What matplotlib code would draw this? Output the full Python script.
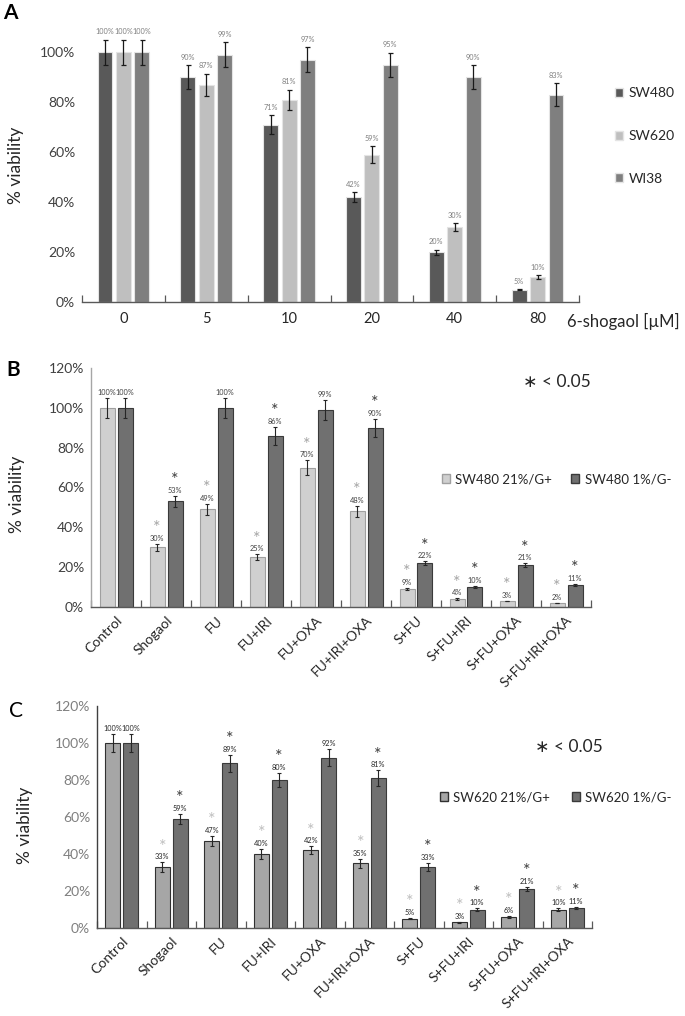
import numpy as np
import matplotlib
matplotlib.use("Agg")
import matplotlib.pyplot as plt
from matplotlib.patches import Patch

plt.rcParams['font.family'] = ['Lato', 'DejaVu Sans']

# ---- panel A: dose response
doses = ["0", "5", "10", "20", "40", "80"]
sw480 = [100, 90, 71, 42, 20, 5]
sw480_err = [5, 4.7, 3.7, 2, 1, 0.3]
sw620 = [100, 87, 81, 59, 30, 10]
sw620_err = [5, 4.4, 4, 3.3, 1.7, 0.8]
wi38 = [100, 99, 97, 95, 90, 83]
wi38_err = [5, 5, 5, 4.8, 4.8, 4.7]

# ---- panels B and C: treatments
treatments = ["Control", "Shogaol", "FU", "FU+IRI", "FU+OXA", "FU+IRI+OXA",
              "S+FU", "S+FU+IRI", "S+FU+OXA", "S+FU+IRI+OXA"]

b_norm = [100, 30, 49, 25, 70, 48, 9, 4, 3, 2]
b_norm_err = [5, 1.7, 2.7, 1.5, 3.7, 2.8, 0.5, 0.3, 0.2, 0.2]
b_hyp = [100, 53, 100, 86, 99, 90, 22, 10, 21, 11]
b_hyp_err = [5, 2.8, 5, 4.5, 5, 4.5, 1, 0.7, 1, 0.6]
b_norm_sig = [0, 1, 1, 1, 1, 1, 1, 1, 1, 1]
b_hyp_sig = [0, 1, 0, 1, 0, 1, 1, 1, 1, 1]

c_norm = [100, 33, 47, 40, 42, 35, 5, 3, 6, 10]
c_norm_err = [5, 2.5, 2.7, 2.9, 2.2, 2.5, 0.4, 0.2, 0.5, 0.7]
c_hyp = [100, 59, 89, 80, 92, 81, 33, 10, 21, 11]
c_hyp_err = [5, 2.7, 4.7, 4, 4.7, 4.3, 2.3, 0.6, 1.2, 0.5]
c_norm_sig = [0, 1, 1, 1, 1, 1, 1, 1, 1, 1]
c_hyp_sig = [0, 1, 1, 1, 0, 1, 1, 1, 1, 1]

W, H = 685, 1016
fig = plt.figure(figsize=(W / 100, H / 100), dpi=100)


def box(l, t, r, b):
    return [l / W, 1 - b / H, (r - l) / W, (b - t) / H]


def pct(v):
    return f"{v:g}%"


def setup_axes(ax, n, ymax, labels, rotate, tick_color):
    ax.set_xlim(-0.5, n - 0.5)
    ax.set_ylim(0, ymax)
    ax.set_yticks(np.arange(0, ymax + 1, 20))
    ax.set_yticklabels([pct(v) for v in np.arange(0, ymax + 1, 20)])
    ax.tick_params(axis='y', length=0, labelsize=10, colors=tick_color, pad=5)
    ax.set_xticks(np.arange(n + 1) - 0.5)
    ax.set_xticklabels([])
    ax.tick_params(axis='x', which='major', direction='in', length=5, color='#595959', width=0.9)
    ax.set_xticks(np.arange(n), minor=True)
    if rotate:
        ax.set_xticklabels(labels, minor=True, rotation=45, ha='right', rotation_mode='anchor')
        ax.tick_params(axis='x', which='minor', length=0, labelsize=10, labelcolor='#262626', pad=5)
    else:
        ax.set_xticklabels(labels, minor=True)
        ax.tick_params(axis='x', which='minor', length=0, labelsize=10.5, labelcolor='#262626', pad=7)
    for s in ['top', 'right']:
        ax.spines[s].set_visible(False)
    ax.spines['bottom'].set_color('#595959')
    ax.spines['bottom'].set_linewidth(1.0)


# ---------------- A ----------------
axA = fig.add_axes(box(82, 27, 579, 302))
x = np.arange(len(doses))
bw, off = 0.18, 0.222
series_a = [(sw480, sw480_err, '#595959', 'SW480'),
            (sw620, sw620_err, '#bfbfbf', 'SW620'),
            (wi38, wi38_err, '#7f7f7f', 'WI38')]
for i, (vals, errs, col, lab) in enumerate(series_a):
    xs = x + (i - 1) * off
    axA.bar(xs, vals, bw, color=col, edgecolor='#e4e4e4', linewidth=0.8)
    axA.errorbar(xs, vals, yerr=errs, fmt='none', ecolor='#1a1a1a', elinewidth=0.9, capsize=1.8, capthick=0.9)
    for xi, v, e in zip(xs, vals, errs):
        axA.annotate(pct(v), (xi, v + e), xytext=(0, 3), textcoords='offset points',
                     ha='center', va='bottom', fontsize=5.3, color='#7f7f7f', annotation_clip=False)
setup_axes(axA, len(doses), 110, doses, False, '#404040')
axA.set_yticks(np.arange(0, 101, 20))
axA.set_yticklabels([pct(v) for v in np.arange(0, 101, 20)])
axA.spines['left'].set_visible(False)

fig.legend([Patch(facecolor=c, edgecolor='#e4e4e4') for _, _, c, _ in series_a],
           [l for _, _, _, l in series_a], loc='center left', bbox_to_anchor=(608 / W, 1 - 136 / H),
           frameon=False, fontsize=10, handlelength=0.6, handleheight=0.6, handletextpad=0.4,
           labelspacing=2.2, borderpad=0, labelcolor='#262626')
fig.text(567 / W, 1 - 321 / H, "6-shogaol [µM]", fontsize=12, va='center', ha='left', color='#262626')
fig.text(3 / W, 1 - 3 / H, "A", fontsize=15, fontweight='bold', va='top', ha='left')
fig.text(16 / W, 1 - 165 / H, "% viability", fontsize=12.5, rotation=90, va='center', ha='center', color='#262626')


# ---------------- B / C ----------------
def pair_panel(rect, norm, norm_err, hyp, hyp_err, norm_sig, hyp_sig,
               norm_col, norm_edge, hyp_col, hyp_edge, star_light, label_col, tick_color, left_col):
    ax = fig.add_axes(rect)
    xx = np.arange(len(treatments))
    w, o = 0.3, 0.18
    for vals, errs, sig, col, edge, sc, sgn in [
            (norm, norm_err, norm_sig, norm_col, norm_edge, star_light, -1),
            (hyp, hyp_err, hyp_sig, hyp_col, hyp_edge, '#404040', 1)]:
        xs = xx + sgn * o
        ax.bar(xs, vals, w, color=col, edgecolor=edge, linewidth=0.8)
        ax.errorbar(xs, vals, yerr=errs, fmt='none', ecolor='#262626', elinewidth=0.8, capsize=1.6, capthick=0.8)
        for xi, v, e, s in zip(xs, vals, errs, sig):
            ax.annotate(pct(v), (xi, v + e), xytext=(0, 1.5), textcoords='offset points',
                        ha='center', va='bottom', fontsize=5.3, color=label_col, annotation_clip=False)
            if s:
                ax.annotate("*", (xi, v + e), xytext=(0, 5.5), textcoords='offset points',
                            ha='center', va='bottom', fontsize=13, color=sc, annotation_clip=False)
    setup_axes(ax, len(treatments), 120, treatments, True, tick_color)
    ax.spines['left'].set_color(left_col)
    ax.spines['left'].set_linewidth(1.0)
    return ax


axB = pair_panel(box(91, 368, 591, 607), b_norm, b_norm_err, b_hyp, b_hyp_err, b_norm_sig, b_hyp_sig,
                 '#d0d0d0', '#a0a0a0', '#707070', '#3a3a3a', '#a6a6a6', '#404040', '#404040', '#a6a6a6')
fig.legend([Patch(facecolor='#d0d0d0', edgecolor='#a0a0a0'), Patch(facecolor='#707070', edgecolor='#3a3a3a')],
           ["SW480 21%/G+", "SW480 1%/G-"], loc='center left', bbox_to_anchor=(435 / W, 1 - 479 / H),
           frameon=False, fontsize=9.5, ncol=2, handlelength=0.6, handleheight=0.6, handletextpad=0.4,
           columnspacing=1.5, borderpad=0, labelcolor='#262626')
fig.text(523 / W, 1 - 382 / H, "∗ < 0.05", fontsize=12.5, va='center', ha='left', color='#262626')
fig.text(6 / W, 1 - 360 / H, "B", fontsize=15, fontweight='bold', va='top', ha='left')
fig.text(17 / W, 1 - 494 / H, "% viability", fontsize=12.5, rotation=90, va='center', ha='center', color='#262626')

axC = pair_panel(box(97, 706, 592, 928), c_norm, c_norm_err, c_hyp, c_hyp_err, c_norm_sig, c_hyp_sig,
                 '#a6a6a6', '#303030', '#707070', '#3a3a3a', '#bfbfbf', '#262626', '#7f7f7f', '#404040')
fig.legend([Patch(facecolor='#a6a6a6', edgecolor='#303030'), Patch(facecolor='#707070', edgecolor='#3a3a3a')],
           ["SW620 21%/G+", "SW620 1%/G-"], loc='center left', bbox_to_anchor=(433 / W, 1 - 797 / H),
           frameon=False, fontsize=9.5, ncol=2, handlelength=0.6, handleheight=0.6, handletextpad=0.4,
           columnspacing=1.7, borderpad=0, labelcolor='#262626')
fig.text(535 / W, 1 - 747 / H, "∗ < 0.05", fontsize=12.5, va='center', ha='left', color='#262626')
fig.text(9 / W, 1 - 701 / H, "C", fontsize=15, va='top', ha='left')
fig.text(25 / W, 1 - 825 / H, "% viability", fontsize=12.5, rotation=90, va='center', ha='center', color='#262626')

fig.savefig("out.png", dpi=100)
